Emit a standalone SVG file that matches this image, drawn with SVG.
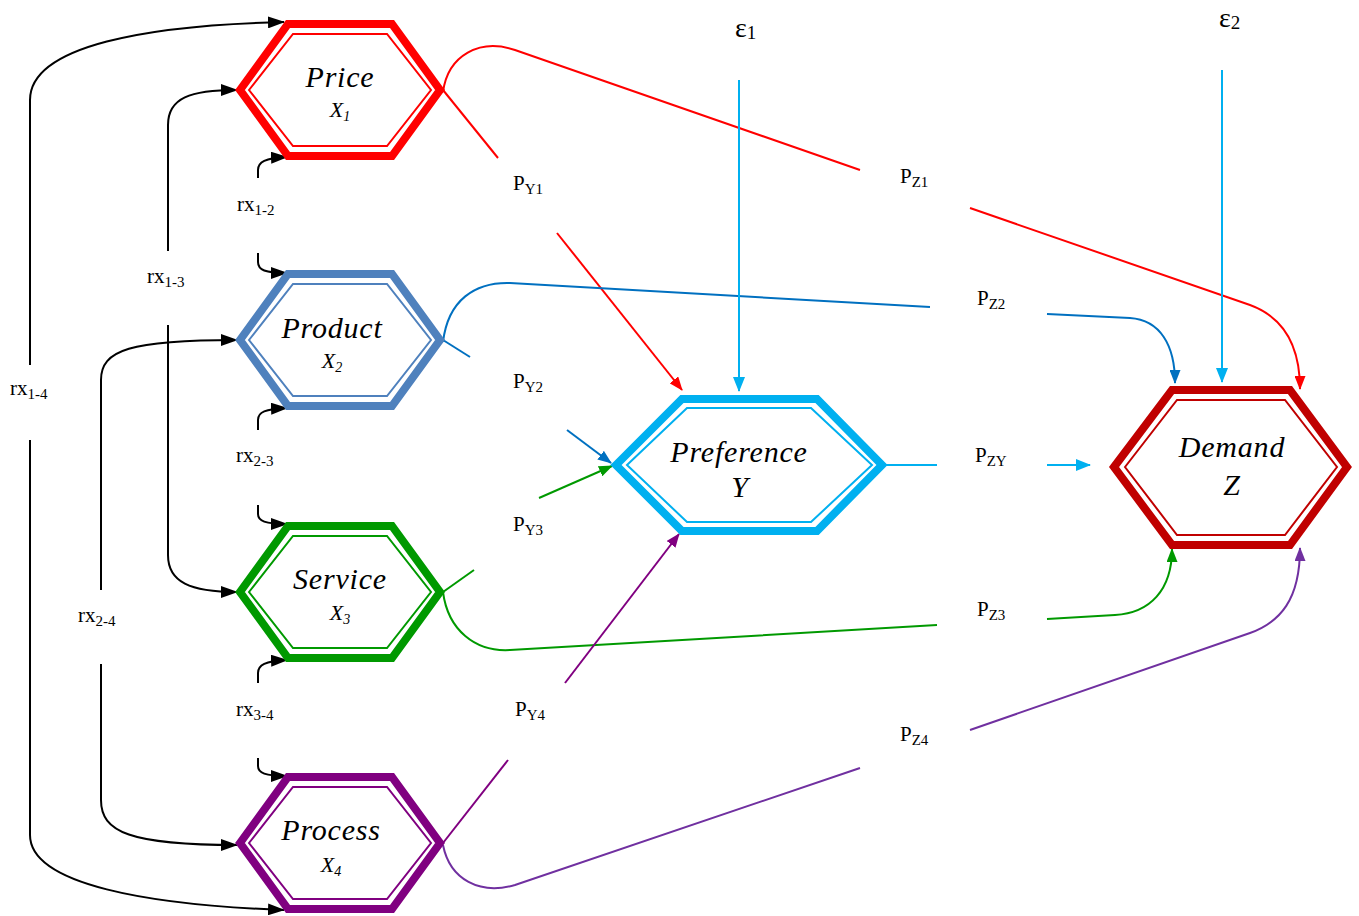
<svg xmlns="http://www.w3.org/2000/svg" width="1359" height="916" viewBox="0 0 1359 916">
<style>
.hx{fill:none;stroke-linejoin:miter}
.o{stroke-width:8}
.i{stroke-width:2}
.nm{font-family:"Liberation Serif","Times New Roman",serif;font-style:italic;font-size:30px;letter-spacing:0.8px;fill:#000;text-anchor:middle}
.xv{font-family:"Liberation Serif","Times New Roman",serif;font-style:italic;font-size:22px;fill:#000;text-anchor:middle}
.lb{font-family:"Liberation Serif","Times New Roman",serif;font-size:21px;fill:#000}
.sb{font-size:15px}
.eps{font-family:"Liberation Serif","Times New Roman",serif;font-size:28px;fill:#000}
.k{fill:none;stroke:#000;stroke-width:2}
.c{fill:none;stroke-width:2}
</style>
<defs>
<marker id="ak" markerUnits="userSpaceOnUse" markerWidth="17" markerHeight="12" viewBox="0 0 17 12" refX="16" refY="6" orient="auto"><path d="M0,0 L17,6 L0,12z" fill="#000"/></marker>
<marker id="ar" markerUnits="userSpaceOnUse" markerWidth="14" markerHeight="11" viewBox="0 0 14 11" refX="13" refY="5.5" orient="auto"><path d="M0,0 L14,5.5 L0,11z" fill="#FF0000"/></marker>
<marker id="ab" markerUnits="userSpaceOnUse" markerWidth="14" markerHeight="11" viewBox="0 0 14 11" refX="13" refY="5.5" orient="auto"><path d="M0,0 L14,5.5 L0,11z" fill="#0070C0"/></marker>
<marker id="ag" markerUnits="userSpaceOnUse" markerWidth="14" markerHeight="11" viewBox="0 0 14 11" refX="13" refY="5.5" orient="auto"><path d="M0,0 L14,5.5 L0,11z" fill="#009900"/></marker>
<marker id="ap" markerUnits="userSpaceOnUse" markerWidth="14" markerHeight="11" viewBox="0 0 14 11" refX="13" refY="5.5" orient="auto"><path d="M0,0 L14,5.5 L0,11z" fill="#800080"/></marker>
<marker id="av" markerUnits="userSpaceOnUse" markerWidth="14" markerHeight="11" viewBox="0 0 14 11" refX="13" refY="5.5" orient="auto"><path d="M0,0 L14,5.5 L0,11z" fill="#7030A0"/></marker>
<marker id="ac" markerUnits="userSpaceOnUse" markerWidth="15" markerHeight="12" viewBox="0 0 15 12" refX="14" refY="6" orient="auto"><path d="M0,0 L15,6 L0,12z" fill="#00B0F0"/></marker>
</defs>
<rect width="1359" height="916" fill="#fff"/>

<g id="connectors">
<path class="k" d="M30,365 V100 C30,45 150,25 284,22" marker-end="url(#ak)"/>
<path class="k" d="M30,440 V835 C30,885 150,905 284,910" marker-end="url(#ak)"/>
<path class="k" d="M168,251 V125 C168,98 190,90 237,90" marker-end="url(#ak)"/>
<path class="k" d="M168,325 V555 C168,582 190,592 237,592" marker-end="url(#ak)"/>
<path class="k" d="M101,590 V380 C101,350 130,340 237,340" marker-end="url(#ak)"/>
<path class="k" d="M101,664 V800 C101,832 130,845 237,845" marker-end="url(#ak)"/>
<path class="k" d="M258,178 V170 C258,162 265,158 287,157" marker-end="url(#ak)"/>
<path class="k" d="M258,253 V262 C258,270 265,273 287,273" marker-end="url(#ak)"/>
<path class="k" d="M258,430 V420 C258,412 265,409 287,408" marker-end="url(#ak)"/>
<path class="k" d="M258,505 V514 C258,521 265,524 287,524" marker-end="url(#ak)"/>
<path class="k" d="M258,683 V673 C258,665 265,661 287,660" marker-end="url(#ak)"/>
<path class="k" d="M258,758 V766 C258,773 265,776 287,776" marker-end="url(#ak)"/>
<path class="c" stroke="#FF0000" d="M443,90 L498,158"/>
<path class="c" stroke="#FF0000" d="M557,233 L682,390" marker-end="url(#ar)"/>
<path class="c" stroke="#FF0000" d="M443,92 C448,55 480,38 515,50 L860,170"/>
<path class="c" stroke="#FF0000" d="M970,208 L1250,305 C1280,316 1300,340 1300,389" marker-end="url(#ar)"/>
<path class="c" stroke="#0070C0" d="M443,340 L470,357"/>
<path class="c" stroke="#0070C0" d="M567,430 L611,463" marker-end="url(#ab)"/>
<path class="c" stroke="#0070C0" d="M443,342 C448,300 475,282 510,283 L930,307"/>
<path class="c" stroke="#0070C0" d="M1047,314 L1130,318 C1160,320 1175,345 1175,383" marker-end="url(#ab)"/>
<path class="c" stroke="#009900" d="M443,592 L474,570"/>
<path class="c" stroke="#009900" d="M539,498 L612,466" marker-end="url(#ag)"/>
<path class="c" stroke="#009900" d="M443,592 C448,630 475,652 510,650 L937,625"/>
<path class="c" stroke="#009900" d="M1047,619 L1115,615 C1150,613 1172,590 1172,549" marker-end="url(#ag)"/>
<path class="c" stroke="#800080" d="M443,843 L508,760"/>
<path class="c" stroke="#800080" d="M565,683 L679,534" marker-end="url(#ap)"/>
<path class="c" stroke="#7030A0" d="M443,845 C450,880 480,895 515,885 L860,768"/>
<path class="c" stroke="#7030A0" d="M970,730 L1250,633 C1280,622 1300,600 1300,548" marker-end="url(#av)"/>
<path class="c" stroke="#00B0F0" d="M884,465 L937,465"/>
<path class="c" stroke="#00B0F0" d="M1047,465 L1090,465" marker-end="url(#ac)"/>
<path class="c" stroke="#00B0F0" d="M739,80 L739,391" marker-end="url(#ac)"/>
<path class="c" stroke="#00B0F0" d="M1222,70 L1222,382" marker-end="url(#ac)"/>
</g>

<g id="labels">
<text class="lb" x="513" y="190">P<tspan class="sb" dy="4">Y1</tspan></text>
<text class="lb" x="513" y="388">P<tspan class="sb" dy="4">Y2</tspan></text>
<text class="lb" x="513" y="531">P<tspan class="sb" dy="4">Y3</tspan></text>
<text class="lb" x="515" y="716">P<tspan class="sb" dy="4">Y4</tspan></text>
<text class="lb" x="900" y="183">P<tspan class="sb" dy="4">Z1</tspan></text>
<text class="lb" x="977" y="305">P<tspan class="sb" dy="4">Z2</tspan></text>
<text class="lb" x="977" y="616">P<tspan class="sb" dy="4">Z3</tspan></text>
<text class="lb" x="900" y="741">P<tspan class="sb" dy="4">Z4</tspan></text>
<text class="lb" x="975" y="462">P<tspan class="sb" dy="4">ZY</tspan></text>
<text class="lb" x="237" y="211">rx<tspan class="sb" dy="4">1-2</tspan></text>
<text class="lb" x="236" y="462">rx<tspan class="sb" dy="4">2-3</tspan></text>
<text class="lb" x="236" y="716">rx<tspan class="sb" dy="4">3-4</tspan></text>
<text class="lb" x="147" y="283">rx<tspan class="sb" dy="4">1-3</tspan></text>
<text class="lb" x="78" y="622">rx<tspan class="sb" dy="4">2-4</tspan></text>
<text class="lb" x="10" y="395">rx<tspan class="sb" dy="4">1-4</tspan></text>
<text class="eps" x="735" y="37">ε<tspan font-size="19" dy="2">1</tspan></text>
<text class="eps" x="1219" y="27">ε<tspan font-size="19" dy="2">2</tspan></text>
</g>

<g id="price">
<polygon class="hx o" stroke="#FF0000" points="240,90 288,24 392,24 440,90 392,156 288,156"/>
<polygon class="hx i" stroke="#FF0000" points="249,90 293,34 387,34 431,90 387,146 293,146"/>
<text class="nm" x="340" y="87">Price</text>
<text class="xv" x="340" y="117">X<tspan font-size="14" dy="4">1</tspan></text>
</g>

<g id="product">
<polygon class="hx o" stroke="#4F81BD" points="240,340 288,274 392,274 440,340 392,406 288,406"/>
<polygon class="hx i" stroke="#4F81BD" points="249,340 293,284 387,284 431,340 387,396 293,396"/>
<text class="nm" x="332" y="338">Product</text>
<text class="xv" x="332" y="368">X<tspan font-size="14" dy="4">2</tspan></text>
</g>

<g id="service">
<polygon class="hx o" stroke="#009900" points="240,592 288,526 392,526 440,592 392,658 288,658"/>
<polygon class="hx i" stroke="#009900" points="249,592 293,536 387,536 431,592 387,648 293,648"/>
<text class="nm" x="340" y="589">Service</text>
<text class="xv" x="340" y="620">X<tspan font-size="14" dy="4">3</tspan></text>
</g>

<g id="process">
<polygon class="hx o" stroke="#800080" points="240,843 288,777 392,777 440,843 392,909 288,909"/>
<polygon class="hx i" stroke="#800080" points="249,843 293,787 387,787 431,843 387,899 293,899"/>
<text class="nm" x="331" y="840">Process</text>
<text class="xv" x="331" y="872">X<tspan font-size="14" dy="4">4</tspan></text>
</g>

<g id="preference">
<polygon class="hx o" stroke="#00B0F0" points="616,465 682,399 817,399 882,465 817,531 682,531"/>
<polygon class="hx i" stroke="#00B0F0" points="627,465 687,408 811,408 872,465 811,522 687,522"/>
<text class="nm" x="739" y="462">Preference</text>
<text class="nm" x="740" y="497">Y</text>
</g>

<g id="demand">
<polygon class="hx o" stroke="#C00000" points="1114,467 1172,390 1290,390 1347,467 1290,545 1172,545"/>
<polygon class="hx i" stroke="#C00000" points="1125,467 1177,400 1285,400 1337,467 1285,535 1177,535"/>
<text class="nm" x="1232" y="457">Demand</text>
<text class="nm" x="1232" y="495">Z</text>
</g>
</svg>
